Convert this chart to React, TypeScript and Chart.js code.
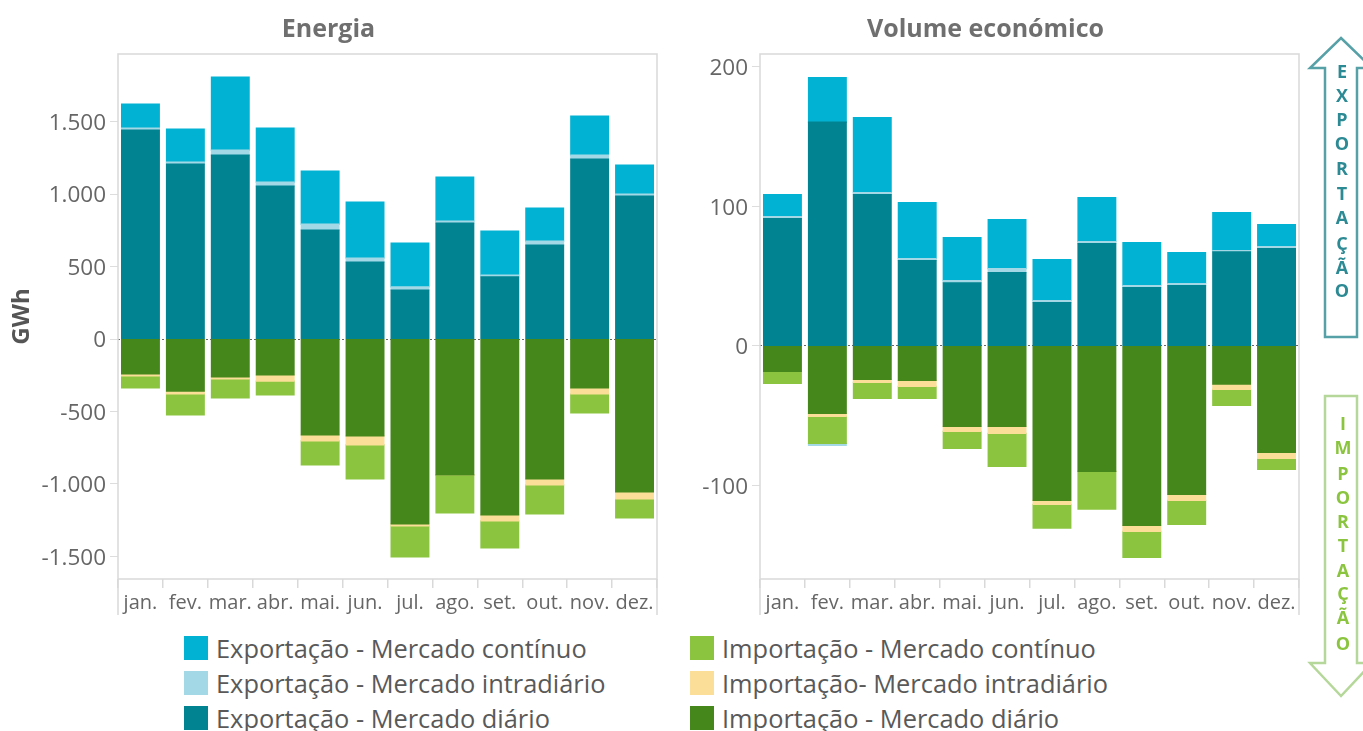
import React, { useEffect, useRef } from "react";
import { Chart, registerables } from "chart.js";

Chart.register(...registerables);

const months = ["jan.", "fev.", "mar.", "abr.", "mai.", "jun.", "jul.", "ago.", "set.", "out.", "nov.", "dez."];

const energyTicks = [-1500, -1000, -500, 0, 500, 1000, 1500];
const valueTicks = [-100, 0, 100, 200];

const energyExportDaily = [1441, 1207, 1269, 1055, 752, 531, 338, 800, 428, 648, 1241, 986];
const energyExportIntraday = [14, 14, 34, 28, 41, 28, 21, 14, 13, 28, 28, 14];
const energyExportContinuous = [166, 227, 504, 372, 366, 386, 303, 303, 304, 227, 269, 200];
const energyImportDaily = [-241, -359, -262, -248, -662, -669, -1276, -938, -1214, -966, -338, -1055];
const energyImportIntraday = [-14, -20, -14, -42, -41, -62, -14, 0, -41, -41, -41, -48];
const energyImportContinuous = [-83, -145, -131, -96, -166, -235, -213, -262, -186, -200, -131, -131];

const valueExportDaily = [91.2, 160.3, 108.4, 61.1, 45.3, 52.5, 31, 73.3, 41.8, 43.2, 67.5, 69.7];
const valueExportIntraday = [1.4, -1.4, 1.4, 1.4, 1.5, 2.9, 1.5, 1.4, 1.4, 1.4, 0.8, 1.4];
const valueExportContinuous = [15.8, 31.8, 53.7, 40.1, 30.8, 35.1, 29.3, 31.5, 30.8, 22.2, 27.2, 15.8];
const valueImportDaily = [-18.1, -48.2, -23.9, -24.6, -57.5, -57.5, -110.5, -89.7, -128.4, -106.2, -27.4, -76.1];
const valueImportIntraday = [0, -2.2, -2.1, -4.3, -3.6, -5, -2.9, 0, -4.3, -4.3, -3.6, -4.3];
const valueImportContinuous = [-8.6, -19.3, -11.5, -8.6, -12.2, -23.7, -17.1, -27.2, -18.6, -17.2, -11.5, -7.9];

const exportContinuousColor = "#02b2d2";
const exportIntradayColor = "#a3d9e6";
const exportDailyColor = "#028391";
const importContinuousColor = "#8bc53f";
const importIntradayColor = "#fbdf98";
const importDailyColor = "#46871b";

const legendLeft: [string, string][] = [
  ["Exportação - Mercado contínuo", exportContinuousColor],
  ["Exportação - Mercado intradiário", exportIntradayColor],
  ["Exportação - Mercado diário", exportDailyColor],
];
const legendRight: [string, string][] = [
  ["Importação - Mercado contínuo", importContinuousColor],
  ["Importação- Mercado intradiário", importIntradayColor],
  ["Importação - Mercado diário", importDailyColor],
];

const exportLetters = ["E", "X", "P", "O", "R", "T", "A", "Ç", "Ã", "O"];
const exportLetterY = [71, 95, 119, 143, 168, 193, 217, 243, 267, 290];
const importLetters = ["I", "M", "P", "O", "R", "T", "A", "Ç", "Ã", "O"];
const importLetterY = [423, 447, 473, 497, 521, 545, 570, 593, 617, 643];

const FONT = "'Open Sans', sans-serif";

const framePlugin = {
  id: "frame",
  beforeDatasetsDraw(chart: any) {
    const { ctx, chartArea: a, scales } = chart;
    ctx.save();
    ctx.strokeStyle = "#d9d9d9";
    ctx.lineWidth = 1.5;
    ctx.strokeRect(a.left, a.top, a.right - a.left, a.bottom - a.top);
    ctx.beginPath();
    ctx.moveTo(a.left, a.bottom);
    ctx.lineTo(a.left, scales.x.bottom);
    ctx.moveTo(a.right, a.bottom);
    ctx.lineTo(a.right, scales.x.bottom);
    ctx.stroke();
    ctx.restore();
  },
};

function formatTick(v: number) {
  const s = String(Math.abs(v)).replace(/\B(?=(\d{3})+$)/g, ".");
  return v < 0 ? "-" + s : s;
}

type PanelProps = {
  left: number;
  width: number;
  axisWidth: number;
  rightPad: number;
  title: string;
  yTitle?: string;
  min: number;
  max: number;
  tickValues: number[];
  series: number[][];
};

function Panel(p: PanelProps) {
  const ref = useRef<HTMLCanvasElement>(null);
  useEffect(() => {
    const colors = [
      importDailyColor,
      importIntradayColor,
      importContinuousColor,
      exportDailyColor,
      exportIntradayColor,
      exportContinuousColor,
    ];
    const chart = new Chart(ref.current as HTMLCanvasElement, {
      type: "bar",
      data: {
        labels: months,
        datasets: p.series.map((data, i) => ({
          data,
          backgroundColor: colors[i],
          borderWidth: 0,
          inflateAmount: 0.6,
          barPercentage: 0.84,
          categoryPercentage: 1,
        })),
      },
      options: {
        animation: false,
        responsive: false,
        layout: { padding: { left: 0, right: p.rightPad, top: 0, bottom: 5 } },
        plugins: {
          legend: { display: false },
          tooltip: { enabled: false },
          title: {
            display: true,
            text: p.title,
            color: "#6f6f6f",
            font: { family: FONT, size: 25, weight: "bold" },
            padding: { top: 15, bottom: 9 },
          },
        },
        scales: {
          x: {
            stacked: true,
            afterFit(s: any) {
              s.height = 36;
            },
            border: { display: false },
            grid: { drawOnChartArea: false, tickColor: "#d9d9d9", tickLength: 9, lineWidth: 1.5 },
            ticks: {
              color: "#666666",
              font: { family: FONT, size: 20 },
              padding: 3,
              autoSkip: false,
              maxRotation: 0,
            },
          },
          y: {
            stacked: true,
            min: p.min,
            max: p.max,
            afterFit(s: any) {
              s.width = p.axisWidth;
            },
            afterBuildTicks(s: any) {
              s.ticks = p.tickValues.map((value) => ({ value }));
            },
            border: { display: false, dash: [2, 2] },
            grid: {
              color: (c: any) => (c.tick && c.tick.value === 0 ? "#666666" : "rgba(0,0,0,0)"),
              tickColor: "#dddddd",
              tickBorderDash: [],
              tickLength: 8,
              lineWidth: 1,
            },
            title: p.yTitle
              ? {
                  display: true,
                  text: p.yTitle,
                  color: "#555555",
                  font: { family: FONT, size: 24, weight: "bold" },
                  padding: { top: 8, bottom: 0 },
                }
              : { display: false },
            ticks: {
              color: "#666666",
              font: { family: FONT, size: 22.5 },
              padding: 4,
              labelOffset: 2,
              callback: (v: any) => formatTick(Number(v)),
            },
          },
        },
      } as any,
      plugins: [framePlugin],
    });
    return () => chart.destroy();
  }, []);
  return (
    <canvas
      ref={ref}
      width={p.width}
      height={620}
      style={{ position: "absolute", left: p.left, top: 0, width: p.width, height: 620 }}
    />
  );
}

function LegendColumn({ items, x }: { items: [string, string][]; x: number }) {
  return (
    <>
      {items.map(([label, color], i) => (
        <React.Fragment key={label}>
          <div
            style={{ position: "absolute", left: x, top: 636 + i * 35, width: 24, height: 24, background: color }}
          />
          <div
            style={{
              position: "absolute",
              left: x + 32,
              top: 630 + i * 35,
              height: 36,
              lineHeight: "36px",
              fontFamily: FONT,
              fontSize: 25.4,
              fontWeight: 500,
              color: "#595959",
              whiteSpace: "nowrap",
            }}
          >
            {label}
          </div>
        </React.Fragment>
      ))}
    </>
  );
}

function Arrows() {
  return (
    <svg
      width={1363}
      height={731}
      style={{ position: "absolute", left: 0, top: 0, pointerEvents: "none" }}
    >
      <path
        d="M1341 38 L1372 68 L1357 68 L1357 337 L1325 337 L1325 68 L1310 68 Z"
        fill="#ffffff"
        stroke="#56a0a8"
        strokeWidth={2.5}
      />
      <path
        d="M1325 396 L1357 396 L1357 663 L1372 663 L1341 696 L1310 663 L1325 663 Z"
        fill="#ffffff"
        stroke="#b5d89a"
        strokeWidth={2.5}
      />
      {exportLetters.map((ch, i) => (
        <text
          key={"e" + i}
          x={1342}
          y={exportLetterY[i]}
          textAnchor="middle"
          dominantBaseline="central"
          fontFamily={FONT}
          fontWeight={700}
          fontSize={18}
          fill="#2c8a94"
        >
          {ch}
        </text>
      ))}
      {importLetters.map((ch, i) => (
        <text
          key={"i" + i}
          x={1343}
          y={importLetterY[i]}
          textAnchor="middle"
          dominantBaseline="central"
          fontFamily={FONT}
          fontWeight={700}
          fontSize={18}
          fill="#8bc53f"
        >
          {ch}
        </text>
      ))}
    </svg>
  );
}

export default function App() {
  return (
    <div
      style={{
        position: "fixed",
        left: 0,
        top: 0,
        width: 1363,
        height: 731,
        overflow: "hidden",
        background: "#ffffff",
      }}
    >
      <Panel
        left={0}
        width={668}
        axisWidth={118}
        rightPad={11}
        title="Energia"
        yTitle="GWh"
        min={-1656}
        max={1966.5}
        tickValues={energyTicks}
        series={[
          energyImportDaily,
          energyImportIntraday,
          energyImportContinuous,
          energyExportDaily,
          energyExportIntraday,
          energyExportContinuous,
        ]}
      />
      <Panel
        left={672}
        width={632}
        axisWidth={88}
        rightPad={5}
        title="Volume económico"
        min={-166.828}
        max={209.072}
        tickValues={valueTicks}
        series={[
          valueImportDaily,
          valueImportIntraday,
          valueImportContinuous,
          valueExportDaily,
          valueExportIntraday,
          valueExportContinuous,
        ]}
      />
      <LegendColumn items={legendLeft} x={184} />
      <LegendColumn items={legendRight} x={690} />
      <Arrows />
    </div>
  );
}
